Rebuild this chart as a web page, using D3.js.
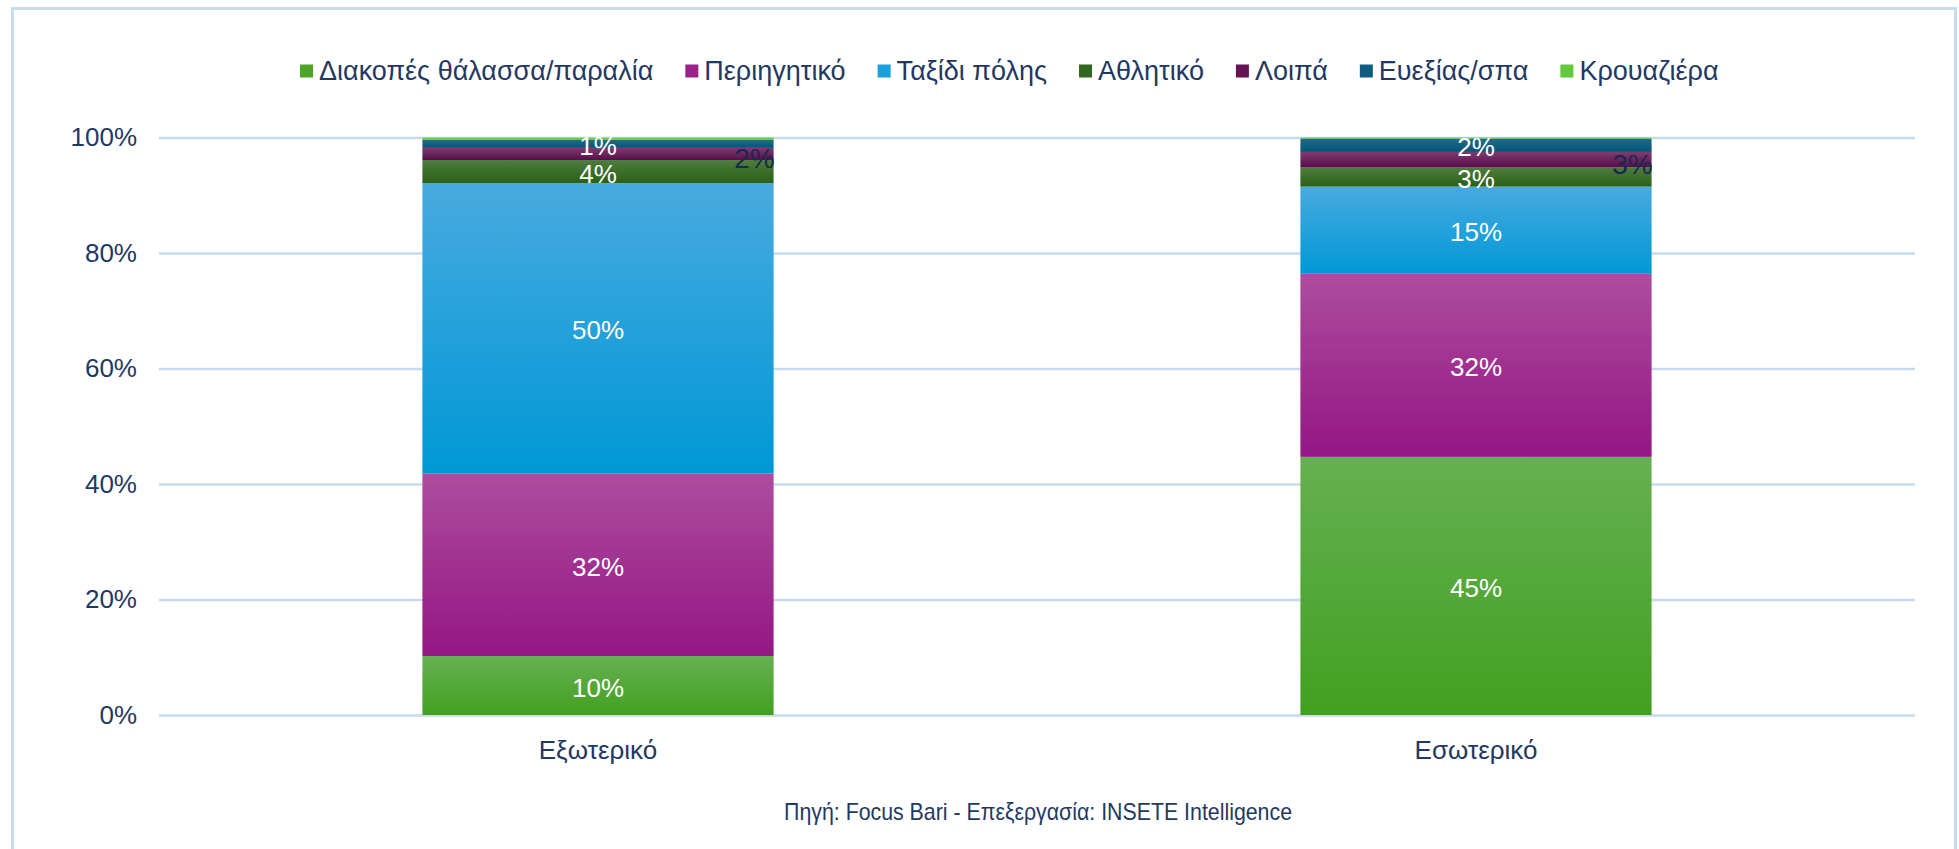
<!DOCTYPE html>
<html>
<head>
<meta charset="utf-8">
<script src="https://cdn.jsdelivr.net/npm/d3@7"></script>
<style>
  body { margin: 0; background: #fff; }
  text { font-family: "Liberation Sans", Arial, sans-serif; }
</style>
</head>
<body>
<div id="chart"></div>
<script>
// data (percent shares)
var categories = ["Εξωτερικό", "Εσωτερικό"];
var seriesNames = ["Διακοπές θάλασσα/παραλία", "Περιηγητικό", "Ταξίδι πόλης", "Αθλητικό", "Λοιπά", "Ευεξίας/σπα", "Κρουαζιέρα"];
var diakopes = [10.2, 44.7];
var periigitiko = [31.6, 31.7];
var taxidiPolis = [50.2, 15.1];
var athlitiko = [4.0, 3.3];
var loipa = [2.1, 2.7];
var euexia = [1.4, 2.3];
var krouaziera = [0.4, 0.2];
var yTicks = [0, 0.2, 0.4, 0.6, 0.8, 1];
var source = "Πηγή: Focus Bari - Επεξεργασία: INSETE Intelligence";

var allSeries = [diakopes, periigitiko, taxidiPolis, athlitiko, loipa, euexia, krouaziera];

// colours: legend, gradient top, gradient bottom
var colors = ["#4ca52a", "#9c2289", "#1aa1dc", "#2f671c", "#661355", "#0e5c80", "#62c83e"];
var topColors = ["#66b052", "#ad4c9e", "#48aadf", "#4e7c40", "#7d3d70", "#236b8a", "#7ad35a"];
var bottomColors = ["#42a020", "#941784", "#0098d6", "#2a6015", "#590c4c", "#005679", "#56c230"];

var svgWidth = 1959;
var svgHeight = 849;
var margin = { top: 137.5, left: 159, right: 44, bottom: 134 };
var width = svgWidth - margin.left - margin.right;
var height = svgHeight - margin.top - margin.bottom;
var navy = "#1f3864";

var svg = d3.select("#chart")
  .append("svg")
  .attr("width", svgWidth)
  .attr("height", svgHeight);

// outer frame
svg.append("rect")
  .attr("x", 12.5)
  .attr("y", 8.5)
  .attr("width", 1943)
  .attr("height", 860)
  .attr("fill", "none")
  .attr("stroke", "#c6dbf0")
  .attr("stroke-width", 3);

var defs = svg.append("defs");
seriesNames.forEach(function(name, i) {
  var g = defs.append("linearGradient")
    .attr("id", "grad" + i)
    .attr("x1", 0).attr("y1", 0)
    .attr("x2", 0).attr("y2", 1);
  g.append("stop").attr("offset", "0%").attr("stop-color", topColors[i]);
  g.append("stop").attr("offset", "100%").attr("stop-color", bottomColors[i]);
});

var chartGroup = svg.append("g")
  .attr("transform", `translate(${margin.left}, ${margin.top})`);

// build table for stack
var table = categories.map(function(c, j) {
  var row = { category: c };
  var total = d3.sum(allSeries, s => s[j]);
  seriesNames.forEach(function(name, i) {
    row[name] = allSeries[i][j] / total;
  });
  return row;
});

var stacked = d3.stack().keys(seriesNames)(table);

var xScale = d3.scaleBand()
  .domain(categories)
  .range([0, width])
  .paddingInner(0.6)
  .paddingOuter(0.3);

var yScale = d3.scaleLinear()
  .domain([0, 1])
  .range([height, 0]);

// gridlines
var grid = chartGroup.append("g")
  .call(d3.axisLeft(yScale).tickValues(yTicks).tickSize(-width).tickFormat(""));
grid.select(".domain").remove();
grid.selectAll("line").attr("stroke", "#c6dbf0").attr("stroke-width", 2.5);

// y axis labels
var yAxis = chartGroup.append("g")
  .call(d3.axisLeft(yScale).tickValues(yTicks).tickSize(0).tickPadding(22).tickFormat(d3.format(".0%")));
yAxis.select(".domain").remove();
yAxis.selectAll("text")
  .attr("fill", navy)
  .style("font-size", "26px")
  .style("font-family", "Liberation Sans, Arial, sans-serif");

// x axis labels
var xAxis = chartGroup.append("g")
  .attr("transform", `translate(0, ${height})`)
  .call(d3.axisBottom(xScale).tickSize(0).tickPadding(26));
xAxis.select(".domain").remove();
xAxis.selectAll("text")
  .attr("fill", navy)
  .style("font-size", "26px")
  .style("font-family", "Liberation Sans, Arial, sans-serif");

// bars
var layers = chartGroup.selectAll(".layer")
  .data(stacked)
  .enter()
  .append("g")
  .attr("class", "layer")
  .attr("fill", (d, i) => `url(#grad${i})`);

layers.selectAll("rect")
  .data(d => d)
  .enter()
  .append("rect")
  .attr("x", d => xScale(d.data.category))
  .attr("y", d => yScale(d[1]))
  .attr("width", xScale.bandwidth())
  .attr("height", d => yScale(d[0]) - yScale(d[1]));

// data labels
var fmt = d3.format(".0%");
stacked.forEach(function(layer, i) {
  layer.forEach(function(d) {
    var v = d[1] - d[0];
    if (v < 0.01) return;
    var cy = (yScale(d[0]) + yScale(d[1])) / 2 + 2;
    var isLoipa = seriesNames[i] == "Λοιπά";
    chartGroup.append("text")
      .attr("x", isLoipa ? xScale(d.data.category) + xScale.bandwidth() + 1 : xScale(d.data.category) + xScale.bandwidth() / 2)
      .attr("y", isLoipa ? cy + 3 : cy)
      .attr("text-anchor", isLoipa ? "end" : "middle")
      .attr("dominant-baseline", "central")
      .attr("fill", isLoipa ? "#17294d" : "#fff")
      .style("font-size", isLoipa ? "28px" : "26px")
      .text(fmt(v));
  });
});

// legend
var legend = svg.append("g").attr("transform", "translate(300, 71)");
var lx = 0;
seriesNames.forEach(function(name, i) {
  legend.append("rect")
    .attr("x", lx)
    .attr("y", -6.5)
    .attr("width", 13)
    .attr("height", 13)
    .attr("fill", colors[i]);
  var t = legend.append("text")
    .attr("x", lx + 19)
    .attr("y", 0)
    .attr("dominant-baseline", "central")
    .attr("fill", navy)
    .style("font-size", "27px")
    .text(name);
  lx += 19 + t.node().getComputedTextLength() + 32;
});

// source note (narrow face)
svg.append("text")
  .attr("x", 1038)
  .attr("y", 811)
  .attr("text-anchor", "middle")
  .attr("dominant-baseline", "central")
  .attr("fill", navy)
  .attr("textLength", 508)
  .attr("lengthAdjust", "spacingAndGlyphs")
  .style("font-family", "Liberation Sans Narrow, Arial Narrow, sans-serif")
  .style("font-size", "24px")
  .text(source);
</script>
</body>
</html>
